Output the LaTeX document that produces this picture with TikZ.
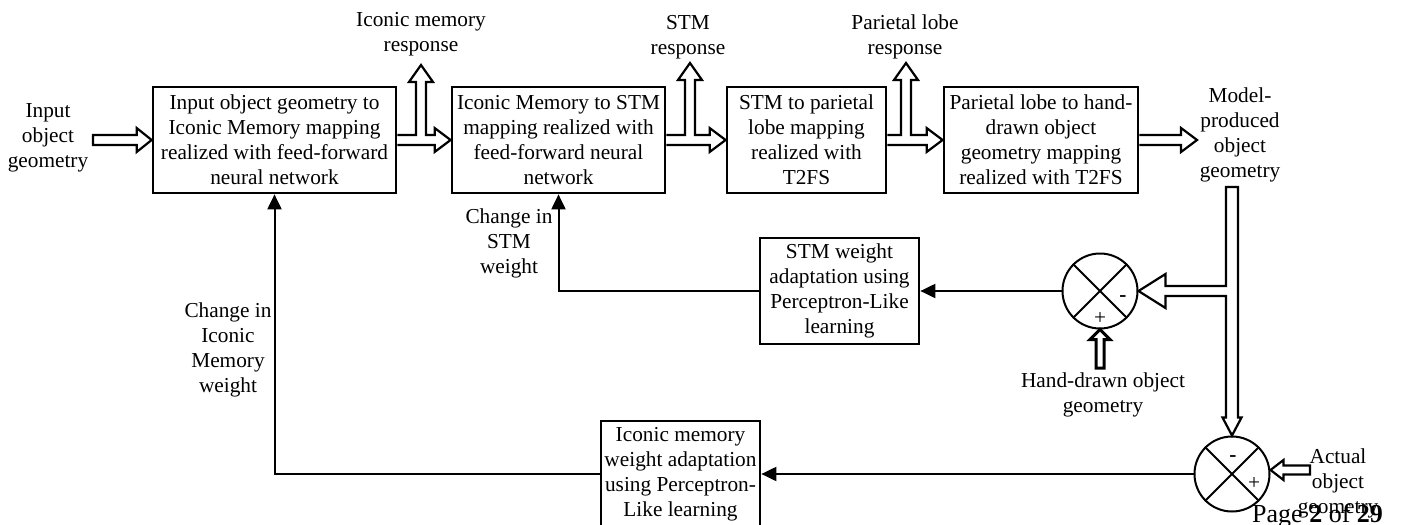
\documentclass[tikz,border=0pt]{standalone}
\usepackage{fontspec}
\setmainfont{Liberation Serif}
\usetikzlibrary{arrows.meta,calc}
\pgfdeclarelayer{bg}
\pgfsetlayers{bg,main}

\begin{document}
\begin{tikzpicture}[x=1pt,y=-1pt,
  txt/.style={font=\fontsize{21.3}{25}\selectfont, align=center, inner sep=0pt},
  blk/.style={txt, draw, line width=2.7pt, minimum height=106pt},
  sumc/.style={circle, draw, line width=2pt, minimum size=75pt, inner sep=0pt},
  hollow/.style={draw, fill=white, line width=2.2pt, line join=miter},
  sig/.style={line width=2pt, -{Triangle[length=15pt,width=14pt]}},
]
\useasboundingbox (0,0) rectangle (1401,525);

% forward chain of mapping blocks
\node[blk, minimum width=243pt] (b1) at (274.5,140) {Input object geometry to\\Iconic Memory mapping\\realized with feed-forward\\neural network};
\node[blk, minimum width=213pt] (b2) at (558.5,140) {Iconic Memory to STM\\mapping realized with\\feed-forward neural\\network};
\node[blk, minimum width=159pt] (b3) at (806.5,140) {STM to parietal\\lobe mapping\\realized with\\T2FS};
\node[blk, minimum width=194pt] (b4) at (1041,140) {Parietal lobe to hand-\\drawn object\\geometry mapping\\realized with T2FS};

% weight adaptation blocks
\node[blk, minimum width=159pt] (sw) at (839.5,291) {STM weight\\adaptation using\\Perceptron-Like\\learning};
\node[blk, minimum width=159pt] (iw) at (680.5,474) {Iconic memory\\weight adaptation\\using Perceptron-\\Like learning};

% comparators
\node[sumc] (c1) at (1100,291) {};
\node[sumc] (c2) at (1232,474) {};
\draw[line width=2pt] (c1.north east) -- (c1.south west) (c1.north west) -- (c1.south east);
\draw[line width=2pt] (c2.north east) -- (c2.south west) (c2.north west) -- (c2.south east);
\node[txt] (m1) at (1123,299) {\textbf{-}};
\node[txt] (p1) at (1100,318) {+};
\node[txt] (m2) at (1233,459) {\textbf{-}};
\node[txt] (p2) at (1254,483) {+};

% text labels
\node[txt] (lin) at (48,138) {Input\\object\\geometry};
\node[txt] (lr1) at (421,34) {Iconic memory\\response};
\node[txt] (lr2) at (688,37) {STM\\response};
\node[txt] (lr3) at (905,37) {Parietal lobe\\response};
\node[txt] (lmo) at (1240,135) {Model-\\produced\\object\\geometry};
\node[txt] (lcs) at (509,243) {Change in\\STM\\weight};
\node[txt] (lci) at (228,350) {Change in\\Iconic\\Memory\\weight};
\node[txt] (lhd) at (1103,395) {Hand-drawn object\\geometry};
\node[txt] (lac) at (1338,483) {Actual\\object\\geometry};
\node[anchor=base west, inner sep=0pt, font=\fontsize{26}{30}\selectfont] (pg) at (1252,522) {Page \textbf{2} of \textbf{29}};

% anchor points for the open arrows
\coordinate (in) at (93,140);
\coordinate (out) at (1197,140);
\coordinate (r1) at (421,65);
\coordinate (r2) at (690,63);
\coordinate (r3) at (906,63);
\coordinate (j1) at (r1|-b1.east);
\coordinate (j2) at (r2|-b2.east);
\coordinate (j3) at (r3|-b3.east);
\coordinate (mt) at (1232,187);
\coordinate (mj) at (mt|-c1.east);
\coordinate (hd) at (1100,368);
\coordinate (ac) at (1310,470);
\coordinate (ah) at ($(c2.east)+(0,-4)$);

\begin{pgfonlayer}{bg}
% input
\draw[hollow] ($(in)+(0,-5)$) -- ($(b1.west)+(-15,-5)$) -- ($(b1.west)+(-15,-12)$) -- (b1.west)
  -- ($(b1.west)+(-15,12)$) -- ($(b1.west)+(-15,5)$) -- ($(in)+(0,5)$) -- cycle;
% block 1 -> block 2 with response branch
\draw[hollow] ($(b1.east)+(0,-5)$) -- ($(j1)+(-5,-5)$) -- ($(r1)+(-5,17)$) -- ($(r1)+(-12,17)$) -- (r1)
  -- ($(r1)+(12,17)$) -- ($(r1)+(5,17)$) -- ($(j1)+(5,-5)$) -- ($(b2.west)+(-16,-5)$)
  -- ($(b2.west)+(-16,-12)$) -- (b2.west) -- ($(b2.west)+(-16,12)$) -- ($(b2.west)+(-16,5)$)
  -- ($(b1.east)+(0,5)$);
% block 2 -> block 3 with response branch
\draw[hollow] ($(b2.east)+(0,-5)$) -- ($(j2)+(-5,-5)$) -- ($(r2)+(-5,17)$) -- ($(r2)+(-12,17)$) -- (r2)
  -- ($(r2)+(12,17)$) -- ($(r2)+(5,17)$) -- ($(j2)+(5,-5)$) -- ($(b3.west)+(-16,-5)$)
  -- ($(b3.west)+(-16,-12)$) -- (b3.west) -- ($(b3.west)+(-16,12)$) -- ($(b3.west)+(-16,5)$)
  -- ($(b2.east)+(0,5)$);
% block 3 -> block 4 with response branch
\draw[hollow] ($(b3.east)+(0,-5)$) -- ($(j3)+(-5,-5)$) -- ($(r3)+(-5,17)$) -- ($(r3)+(-12,17)$) -- (r3)
  -- ($(r3)+(12,17)$) -- ($(r3)+(5,17)$) -- ($(j3)+(5,-5)$) -- ($(b4.west)+(-16,-5)$)
  -- ($(b4.west)+(-16,-12)$) -- (b4.west) -- ($(b4.west)+(-16,12)$) -- ($(b4.west)+(-16,5)$)
  -- ($(b3.east)+(0,5)$);
% model output
\draw[hollow] ($(b4.east)+(0,-5)$) -- ($(out)+(-16,-5)$) -- ($(out)+(-16,-12)$) -- (out)
  -- ($(out)+(-16,12)$) -- ($(out)+(-16,5)$) -- ($(b4.east)+(0,5)$);
% model output fed to both comparators
\draw[hollow] ($(mt)+(-6,0)$) -- ($(mt)+(6,0)$) -- ($(c2.north)+(6,-18)$) -- ($(c2.north)+(9.5,-18)$)
  -- (c2.north) -- ($(c2.north)+(-9.5,-18)$) -- ($(c2.north)+(-6,-18)$) -- ($(mj)+(-6,5)$)
  -- ($(c1.east)+(27,5)$) -- ($(c1.east)+(27,17)$) -- (c1.east) -- ($(c1.east)+(27,-17)$)
  -- ($(c1.east)+(27,-5)$) -- ($(mj)+(-6,-5)$) -- cycle;
% hand-drawn geometry
\draw[hollow, line width=3pt] ($(hd)+(-4,0)$) -- ($(c1.south)+(-4,10)$) -- ($(c1.south)+(-10,10)$)
  -- (c1.south) -- ($(c1.south)+(10,10)$) -- ($(c1.south)+(4,10)$) -- ($(hd)+(4,0)$) -- cycle;
% actual geometry
\draw[hollow] ($(ac)+(0,-4.5)$) -- ($(ah)+(13,-4.5)$) -- ($(ah)+(13,-10)$) -- (ah)
  -- ($(ah)+(13,10)$) -- ($(ah)+(13,4.5)$) -- ($(ac)+(0,4.5)$) -- cycle;
\end{pgfonlayer}

% error signals and weight updates
\draw[sig] (c1.west) -- (sw.east);
\draw[sig] (sw.west) -| (b2.south);
\draw[sig] (c2.west) -- (iw.east);
\draw[sig] (iw.west) -| (b1.south);
\end{tikzpicture}
\end{document}
